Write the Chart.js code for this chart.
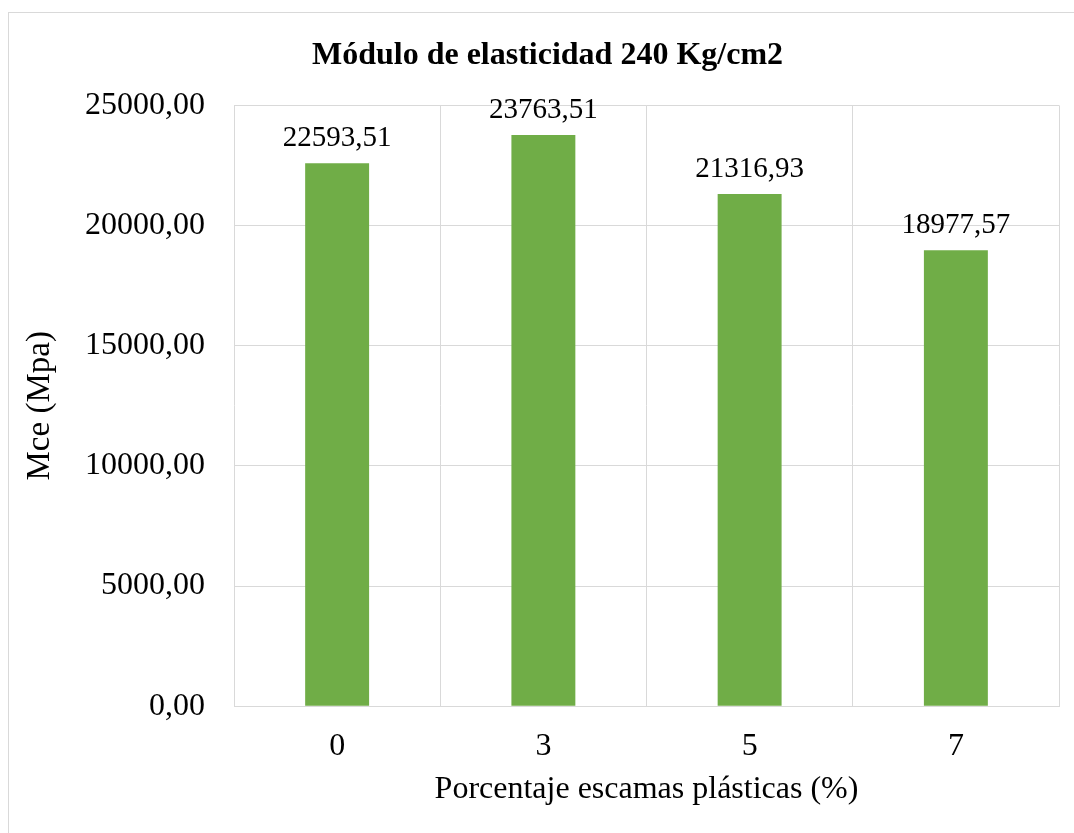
<!DOCTYPE html>
<html>
<head>
<meta charset="utf-8">
<script src="https://cdn.jsdelivr.net/npm/chart.js@4.4.1/dist/chart.umd.min.js"></script>
<style>
  html, body { margin: 0; padding: 0; background: #fff; overflow: hidden; }
  #frame {
    position: absolute; left: 8px; top: 12px; width: 1100px; height: 900px;
    border: 1px solid #d9d9d9; box-sizing: border-box;
  }
  #wrap { position: absolute; left: 0; top: 0; width: 1074px; height: 833px; }
</style>
</head>
<body>
<div id="frame"></div>
<div id="wrap"><canvas id="chart"></canvas></div>
<script>
const categories = ['0', '3', '5', '7'];
const modulus = [22593.51, 23763.51, 21316.93, 18977.57];
const yMax = 25000;
const yStep = 5000;

const serif = '"Liberation Serif", "Times New Roman", serif';

function comma(v) {
  return Number(v).toFixed(2).replace('.', ',');
}

// value labels above each bar
const barLabels = {
  id: 'barLabels',
  afterDatasetsDraw(chart) {
    const ctx = chart.ctx;
    const meta = chart.getDatasetMeta(0);
    ctx.save();
    ctx.font = '29px ' + serif;
    ctx.fillStyle = '#000';
    ctx.textAlign = 'center';
    ctx.textBaseline = 'alphabetic';
    meta.data.forEach((bar, i) => {
      ctx.fillText(comma(modulus[i]), bar.x, bar.y - 17);
    });
    ctx.restore();
  },
};

new Chart(document.getElementById('chart').getContext('2d'), {
  type: 'bar',
  data: {
    labels: categories,
    datasets: [
      {
        label: 'Mce',
        data: modulus,
        backgroundColor: '#70ad47',
        barPercentage: 0.31,
        categoryPercentage: 1,
      },
    ],
  },
  options: {
    responsive: true,
    maintainAspectRatio: false,
    animation: false,
    layout: { padding: { left: 36, right: 15, top: 0, bottom: 24 } },
    plugins: {
      legend: { display: false },
      tooltip: { enabled: false },
      title: {
        display: true,
        text: 'Módulo de elasticidad 240 Kg/cm2',
        color: '#000',
        font: { family: serif, size: 32, weight: 'bold' },
        padding: { top: 37, bottom: 30 },
      },
    },
    scales: {
      x: {
        grid: { color: '#d9d9d9', drawTicks: false },
        border: { color: '#d9d9d9' },
        ticks: { color: '#000', font: { family: serif, size: 32 }, padding: 21 },
        title: {
          display: true,
          text: 'Porcentaje escamas plásticas (%)',
          color: '#000',
          font: { family: serif, size: 32 },
          padding: { top: -16, bottom: 0 },
        },
      },
      y: {
        min: 0,
        max: yMax,
        afterFit(scale) { scale.width = 198; },
        grid: { color: '#d9d9d9', drawTicks: false },
        border: { display: false },
        ticks: {
          stepSize: yStep,
          color: '#000',
          font: { family: serif, size: 32 },
          padding: 29,
          callback: (v) => comma(v),
        },
        title: {
          display: true,
          text: 'Mce (Mpa)',
          color: '#000',
          font: { family: serif, size: 33 },
          padding: { top: -15, bottom: 0 },
        },
      },
    },
  },
  plugins: [barLabels],
});
</script>
</body>
</html>
